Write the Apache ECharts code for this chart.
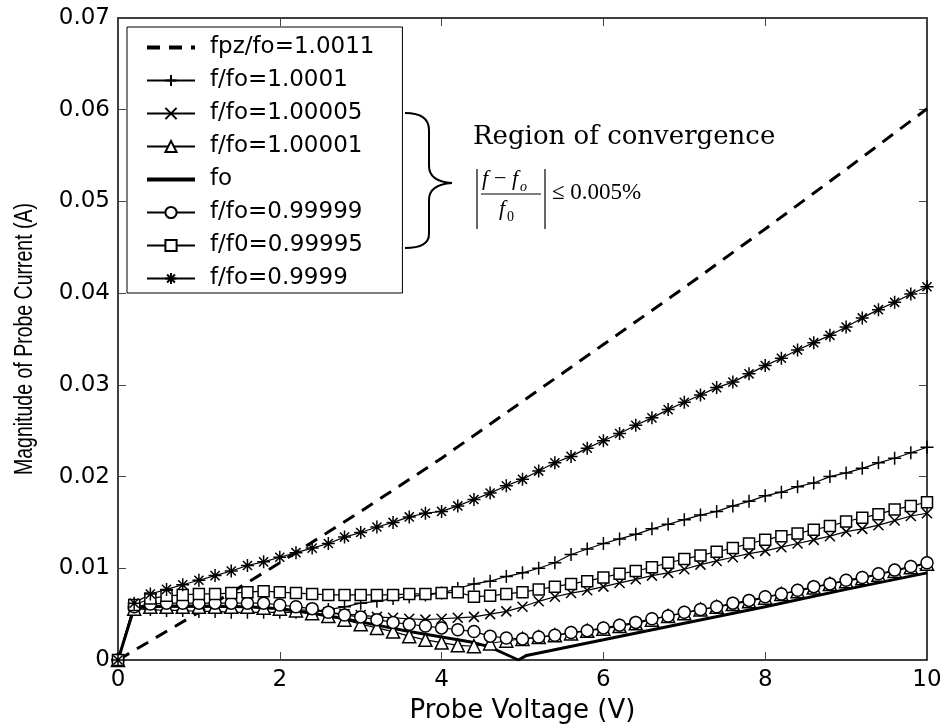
<!DOCTYPE html>
<html>
<head>
<meta charset="utf-8">
<script src="https://cdn.jsdelivr.net/npm/echarts@6/dist/echarts.min.js"></script>
<style>
	html, body { margin: 0; padding: 0; background: #fff; }
	#chart { width: 947px; height: 727px; }
</style>
</head>
<body>
<div id="chart"></div>
<script>
// probe voltage (V) where the marked curves are sampled
var voltage = [0, 0.2, 0.4, 0.6, 0.8, 1.0, 1.2, 1.4, 1.6, 1.8,
	2.0, 2.2, 2.4, 2.6, 2.8, 3.0, 3.2, 3.4, 3.6, 3.8,
	4.0, 4.2, 4.4, 4.6, 4.8, 5.0, 5.2, 5.4, 5.6, 5.8,
	6.0, 6.2, 6.4, 6.6, 6.8, 7.0, 7.2, 7.4, 7.6, 7.8,
	8.0, 8.2, 8.4, 8.6, 8.8, 9.0, 9.2, 9.4, 9.6, 9.8,
	10.0];

// magnitude of probe current (A)
var cur_1p0001 = [0, 0.0056, 0.0055, 0.0054, 0.0054, 0.0053, 0.0053, 0.0052, 0.0052, 0.0052,
	0.0052, 0.0052, 0.0053, 0.0055, 0.0058, 0.0062, 0.0064, 0.0067, 0.0069, 0.0071,
	0.0073, 0.0078, 0.0083, 0.0086, 0.0091, 0.0095, 0.0100, 0.0106, 0.0115, 0.0121,
	0.0127, 0.0132, 0.0137, 0.0143, 0.0148, 0.0153, 0.0158, 0.0162, 0.0168, 0.0173,
	0.0179, 0.0183, 0.0189, 0.0193, 0.0200, 0.0204, 0.0209, 0.0215, 0.0220, 0.0226,
	0.0232];

var cur_1p00005 = [0, 0.0057, 0.0058, 0.0058, 0.0058, 0.0058, 0.0058, 0.0058, 0.0058, 0.0057,
	0.0056, 0.0055, 0.0054, 0.0052, 0.0050, 0.0049, 0.0047, 0.0046, 0.0045, 0.0044,
	0.0045, 0.0046, 0.0047, 0.0050, 0.0053, 0.0058, 0.0064, 0.0069, 0.0073, 0.0076,
	0.0080, 0.0084, 0.0088, 0.0092, 0.0095, 0.0099, 0.0104, 0.0108, 0.0112, 0.0116,
	0.0119, 0.0123, 0.0127, 0.0131, 0.0135, 0.0140, 0.0143, 0.0147, 0.0152, 0.0157,
	0.0160];

var cur_1p00001 = [0, 0.0056, 0.0058, 0.0058, 0.0058, 0.0058, 0.0058, 0.0058, 0.0058, 0.0057,
	0.0056, 0.0054, 0.0051, 0.0048, 0.0044, 0.0039, 0.0035, 0.0031, 0.0026, 0.0022,
	0.0019, 0.0016, 0.0015, 0.0018, 0.0021, 0.0023, 0.0025, 0.0027, 0.0029, 0.0032,
	0.0034, 0.0037, 0.0040, 0.0044, 0.0048, 0.0051, 0.0055, 0.0058, 0.0061, 0.0064,
	0.0068, 0.0072, 0.0075, 0.0079, 0.0083, 0.0086, 0.0089, 0.0093, 0.0097, 0.0101,
	0.0105];

var cur_0p99999 = [0, 0.0058, 0.0061, 0.0062, 0.0062, 0.0062, 0.0062, 0.0062, 0.0062, 0.0062,
	0.0060, 0.0058, 0.0056, 0.0052, 0.0049, 0.0047, 0.0044, 0.0041, 0.0039, 0.0037,
	0.0035, 0.0033, 0.0031, 0.0026, 0.0024, 0.0023, 0.0025, 0.0027, 0.0030, 0.0032,
	0.0035, 0.0038, 0.0041, 0.0045, 0.0048, 0.0052, 0.0055, 0.0058, 0.0062, 0.0065,
	0.0069, 0.0072, 0.0076, 0.0080, 0.0083, 0.0087, 0.0090, 0.0094, 0.0098, 0.0102,
	0.0106];

var cur_0p99995 = [0, 0.0060, 0.0067, 0.0070, 0.0071, 0.0072, 0.0072, 0.0073, 0.0074, 0.0075,
	0.0074, 0.0073, 0.0072, 0.0071, 0.0071, 0.0071, 0.0071, 0.0071, 0.0072, 0.0072,
	0.0073, 0.0074, 0.0069, 0.0070, 0.0072, 0.0074, 0.0077, 0.0080, 0.0083, 0.0086,
	0.0090, 0.0094, 0.0097, 0.0101, 0.0106, 0.0110, 0.0114, 0.0118, 0.0122, 0.0127,
	0.0131, 0.0135, 0.0138, 0.0142, 0.0146, 0.0151, 0.0155, 0.0159, 0.0164, 0.0168,
	0.0172];

var cur_0p9999 = [0, 0.0062, 0.0072, 0.0077, 0.0082, 0.0087, 0.0092, 0.0097, 0.0103, 0.0107,
	0.0112, 0.0117, 0.0122, 0.0127, 0.0134, 0.0139, 0.0145, 0.0150, 0.0156, 0.0160,
	0.0162, 0.0168, 0.0175, 0.0182, 0.0190, 0.0197, 0.0206, 0.0215, 0.0222, 0.0231,
	0.0239, 0.0247, 0.0256, 0.0264, 0.0273, 0.0281, 0.0289, 0.0297, 0.0303, 0.0312,
	0.0321, 0.0329, 0.0338, 0.0346, 0.0354, 0.0363, 0.0373, 0.0382, 0.0390, 0.0399,
	0.0407];

// fo curve (no markers)
var foVoltage = [0, 0.2, 0.6, 1.0, 1.6, 2.0, 2.4, 2.8, 3.2, 3.6, 4.0, 4.4, 4.6, 4.8, 4.95, 5.05, 6.0, 7.0, 8.0, 9.0, 10.0];
var foCurrent = [0, 0.0057, 0.0059, 0.0059, 0.0058, 0.0056, 0.0051, 0.0045, 0.0038, 0.0031, 0.0025, 0.0019, 0.0014, 0.0006, 0, 0.0005, 0.0022, 0.0040, 0.0058, 0.0077, 0.0095];

// fpz/fo = 1.0011 dashed curve
var pzVoltage = [0, 1, 2, 3, 4, 5, 6, 7, 8, 9, 10];
var pzCurrent = [0, 0.0052, 0.0106, 0.0162, 0.0220, 0.0282, 0.0344, 0.0406, 0.0470, 0.0535, 0.0601];

var xTicks = { min: 0, max: 10, interval: 2 };
var yTicks = { min: 0, max: 0.07, interval: 0.01 };

function pairs(xs, ys) {
	return xs.map(function(x, i) { return [x, ys[i]]; });
}

var SYM_PLUS = 'path://M0,5L10,5M5,0L5,10';
var SYM_X = 'path://M0,0L10,10M10,0L0,10';
var SYM_STAR = 'path://M0,5L10,5M5,0L5,10M1.5,1.5L8.5,8.5M8.5,1.5L1.5,8.5';

var FONT = 'DejaVu Sans';
var CLEAR = 'rgba(0,0,0,0)';

function markedSeries(name, ys, symbol, size, hollow) {
	return {
		name: name,
		type: 'line',
		data: pairs(voltage, ys),
		symbol: symbol,
		symbolSize: size,
		showAllSymbol: true,
		lineStyle: { color: '#000', width: 1.2 },
		itemStyle: {
			color: hollow ? '#fff' : '#000',
			borderColor: '#000',
			borderWidth: 1.5
		}
	};
}

function plainSeries(name, xs, ys, dash) {
	return {
		name: name,
		type: 'line',
		data: pairs(xs, ys),
		showSymbol: false,
		symbol: 'circle',
		lineStyle: { color: '#000', width: 3, type: dash || 'solid' },
		itemStyle: { color: CLEAR, borderColor: CLEAR, borderWidth: 0 }
	};
}

var series = [
	plainSeries('fpz/fo=1.0011', pzVoltage, pzCurrent, [13, 9]),
	markedSeries('f/fo=1.0001', cur_1p0001, SYM_PLUS, 13, false),
	markedSeries('f/fo=1.00005', cur_1p00005, SYM_X, 10, false),
	markedSeries('f/fo=1.00001', cur_1p00001, 'triangle', 13, true),
	plainSeries('fo', foVoltage, foCurrent),
	markedSeries('f/fo=0.99999', cur_0p99999, 'circle', 12, true),
	markedSeries('f/f0=0.99995', cur_0p99995, 'rect', 11, true),
	markedSeries('f/fo=0.9999', cur_0p9999, SYM_STAR, 13, false)
];

var legendData = series.map(function(s) {
	if (s.showSymbol === false) {
		return { name: s.name, lineStyle: { width: 4, type: s.lineStyle.type, color: '#000' } };
	}
	return { name: s.name };
});

var axisCommon = {
	type: 'value',
	splitLine: { show: false },
	axisLine: { show: true, onZero: false, lineStyle: { color: '#000', width: 1.5 } },
	axisTick: { show: true, inside: true, length: 8, lineStyle: { color: '#444', width: 1 } }
};

function axis(extra) {
	return Object.assign({}, axisCommon, extra);
}

var serif = 'DejaVu Serif';
var tSerif = 'Liberation Serif';
var braceStyle = { fill: 'none', stroke: '#000', lineWidth: 2 };

function curve(x1, y1, cx1, cy1, cx2, cy2, x2, y2) {
	return {
		type: 'bezierCurve',
		shape: { x1: x1, y1: y1, cpx1: cx1, cpy1: cy1, cpx2: cx2, cpy2: cy2, x2: x2, y2: y2 },
		style: braceStyle
	};
}

function seg(x1, y1, x2, y2, w) {
	return { type: 'line', shape: { x1: x1, y1: y1, x2: x2, y2: y2 }, style: { stroke: '#000', lineWidth: w } };
}

function label(x, y, text, font) {
	return { type: 'text', left: x, top: y, style: { text: text, font: font, fill: '#000' } };
}

var graphic = [
	// y axis title, glyphs widened like the reference
	{
		type: 'text',
		x: 25, y: 339,
		rotation: Math.PI / 2,
		scaleY: 1.3,
		style: {
			text: 'Magnitude of Probe Current (A)',
			font: '19.5px "Liberation Sans"',
			fill: '#000',
			align: 'center',
			verticalAlign: 'middle'
		}
	},
	// brace
	curve(405, 113, 420, 113, 429, 118, 429, 130),
	seg(429, 130, 429, 166, 2),
	curve(429, 166, 429, 176, 436, 182, 452, 183),
	curve(452, 183, 436, 184, 429, 190, 429, 200),
	seg(429, 200, 429, 234, 2),
	curve(429, 234, 429, 244, 420, 248, 405, 248),
	label(473, 124, 'Region of convergence', '26px "' + serif + '"'),
	// |(f - fo)/f0| <= 0.005%
	seg(477, 169, 477, 229, 1.2),
	seg(545, 169, 545, 229, 1.2),
	seg(481, 194, 541, 194, 1.2),
	label(482, 168, 'f', 'italic 22px "' + tSerif + '"'),
	label(494, 168, '\u2212', '22px "' + tSerif + '"'),
	label(512, 168, 'f', 'italic 22px "' + tSerif + '"'),
	label(520, 180, 'o', 'italic 14px "' + tSerif + '"'),
	label(499, 198, 'f', 'italic 22px "' + tSerif + '"'),
	label(507, 210, '0', '14px "' + tSerif + '"'),
	label(552, 181, '\u2264 0.005%', '23px "' + tSerif + '"')
];

var chart = echarts.init(document.getElementById('chart'), null, { renderer: 'canvas' });

chart.setOption({
	animation: false,
	backgroundColor: '#fff',
	textStyle: { fontFamily: FONT, color: '#000' },
	grid: { left: 118, right: 20, top: 18, bottom: 67, containLabel: false, outerBoundsMode: 'none' },
	legend: {
		left: 127,
		top: 27,
		orient: 'vertical',
		backgroundColor: '#fff',
		borderColor: '#000',
		borderWidth: 1,
		padding: [9, 28, 3, 18],
		itemWidth: 48,
		itemHeight: 14,
		itemGap: 10,
		selectedMode: false,
		textStyle: { fontFamily: FONT, fontSize: 23, color: '#000', padding: [0, 0, 0, 10] },
		data: legendData
	},
	xAxis: [
		axis(Object.assign({}, xTicks, {
			position: 'bottom',
			name: 'Probe Voltage (V)',
			nameLocation: 'middle',
			nameGap: 38,
			nameTextStyle: { fontFamily: FONT, fontSize: 26, color: '#000' },
			axisLabel: { fontFamily: FONT, fontSize: 23, color: '#000', margin: 9 }
		})),
		axis(Object.assign({}, xTicks, {
			position: 'top',
			axisLabel: { show: false }
		}))
	],
	yAxis: [
		axis(Object.assign({}, yTicks, {
			position: 'left',
			axisLabel: { fontFamily: FONT, fontSize: 23, color: '#000', margin: 8 }
		})),
		axis(Object.assign({}, yTicks, {
			position: 'right',
			axisLabel: { show: false }
		}))
	],
	graphic: graphic,
	series: series
});
</script>
</body>
</html>
